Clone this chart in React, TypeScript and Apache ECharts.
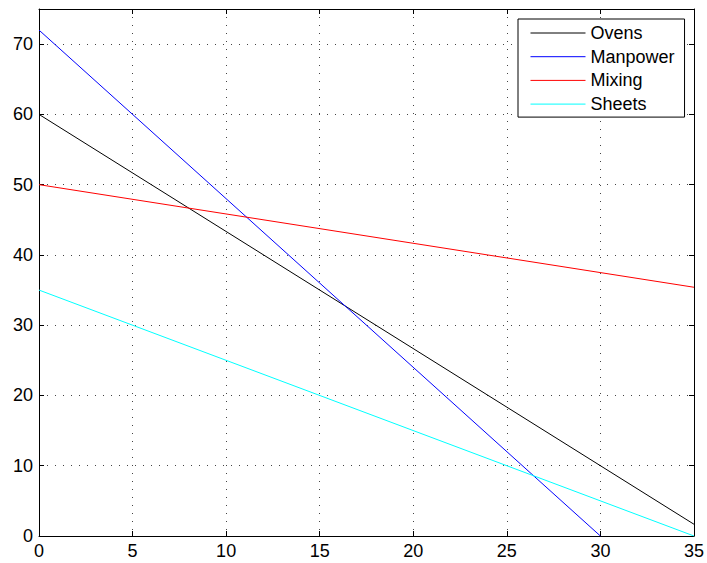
import React, { useEffect, useRef } from "react";
import * as echarts from "echarts";

const seriesNames = ["Ovens", "Manpower", "Mixing", "Sheets"];
const seriesColors = ["#000000", "#0000ff", "#ff0000", "#00ffff"];
const ovens: [number, number][] = [[0, 60], [35, 1.67]];
const manpower: [number, number][] = [[0, 72], [30, 0]];
const mixing: [number, number][] = [[0, 50], [35, 35.4]];
const sheets: [number, number][] = [[0, 35], [35, 0]];
const seriesData = [ovens, manpower, mixing, sheets];

const xMin = 0, xMax = 35, xStep = 5;
const yMin = 0, yMax = 75, yStep = 10;

const font = "'Liberation Sans', Arial, Helvetica, sans-serif";

export default function App() {
  const ref = useRef<HTMLDivElement>(null);
  useEffect(() => {
    document.body.style.margin = "0";
    if (!ref.current) return;
    const chart = echarts.init(ref.current, undefined, { renderer: "svg" });
    const gridLine = { show: true, lineStyle: { color: "#444", width: 1, type: [1, 7] as any } };
    const axisLine = { show: true, onZero: false, lineStyle: { color: "#000", width: 1 } };
    const tick = { show: true, inside: true, length: 5, lineStyle: { color: "#000" } };
    chart.setOption({
      animation: false,
      backgroundColor: "#fff",
      textStyle: { fontFamily: font },
      grid: { left: 39, right: 13, top: 9, bottom: 27, containLabel: false },
      legend: {
        data: seriesNames,
        orient: "vertical",
        left: 518,
        top: 19,
        itemWidth: 55,
        itemHeight: 14,
        itemGap: 3.7,
        padding: [4, 10, 3, 12],
        borderColor: "#000",
        borderWidth: 1,
        backgroundColor: "#fff",
        itemStyle: { opacity: 0 },
        lineStyle: { width: 1 },
        textStyle: { fontSize: 18, lineHeight: 20, color: "#000", fontFamily: font },
      },
      xAxis: [
        {
          type: "value", min: xMin, max: xMax, interval: xStep, position: "bottom",
          axisLine, axisTick: tick, splitLine: gridLine,
          axisLabel: { fontSize: 18, color: "#000", fontFamily: font, margin: 6 },
        },
        {
          type: "value", min: xMin, max: xMax, interval: xStep, position: "top",
          axisLine, axisTick: tick, splitLine: { show: false }, axisLabel: { show: false },
        },
      ],
      yAxis: [
        {
          type: "value", min: yMin, max: yMax, interval: yStep, position: "left",
          axisLine, axisTick: tick, splitLine: gridLine,
          axisLabel: { fontSize: 18, color: "#000", fontFamily: font, margin: 6,
            showMaxLabel: false },
        },
        {
          type: "value", min: yMin, max: yMax, interval: yStep, position: "right",
          axisLine, axisTick: tick, splitLine: { show: false }, axisLabel: { show: false },
        },
      ],
      series: seriesNames.map((name, i) => ({
        name,
        type: "line",
        data: seriesData[i],
        symbol: "none",
        xAxisIndex: 0,
        yAxisIndex: 0,
        lineStyle: { color: seriesColors[i], width: 1 },
        itemStyle: { color: seriesColors[i] },
      })),
    });
    return () => chart.dispose();
  }, []);
  return <div ref={ref} style={{ width: 707, height: 563 }} />;
}
